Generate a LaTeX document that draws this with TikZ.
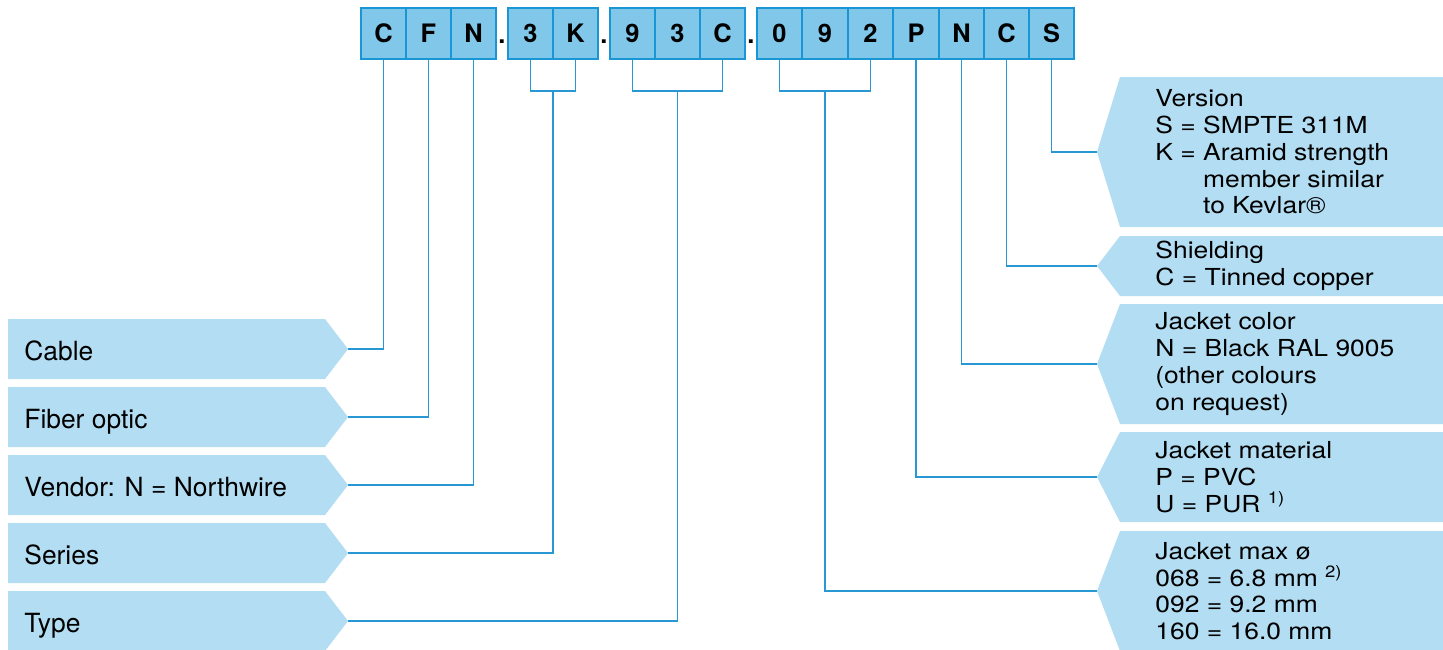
\documentclass[tikz,border=0pt]{standalone}
\usepackage{fontspec}
\setmainfont{TeX Gyre Heros}
\newfontfamily\wideheros[FakeStretch=1.13]{TeX Gyre Heros}
\usetikzlibrary{calc}
\definecolor{keyfill}{HTML}{80C7EA}
\definecolor{keyline}{HTML}{1B96D4}
\definecolor{tagfill}{HTML}{B3DDF2}
\definecolor{wireblue}{HTML}{2898D5}
\tikzset{
  keybox/.style={draw=keyline, fill=keyfill, line width=1pt, minimum width=22.7pt,
    minimum height=25.5pt, inner sep=0pt, font=\bfseries\fontsize{12.7}{14}\selectfont},
  keydot/.style={anchor=base, inner sep=0pt, font=\bfseries\fontsize{12.7}{14}\selectfont},
  wire/.style={wireblue, line width=0.65pt},
  lefttag/.style={anchor=base west, inner sep=0pt, font=\fontsize{13.2}{15}\selectfont},
  righttag/.style={anchor=west, inner sep=0pt, align=left, font=\wideheros\fontsize{11.7}{13.35}\selectfont},
}
\begin{document}
\begin{tikzpicture}[x=0.5pt, y=-0.5pt]
\useasboundingbox (0,0) rectangle (1443,649);
% order code boxes
\foreach \x/\ch [count=\i] in {383.5/C, 428.5/F, 473.5/N, 530.5/3, 575.5/K, 632.5/9, 677.5/3, 722.5/C,
  779.5/0, 825/9, 870.5/2, 916/P, 961.5/N, 1006.5/C, 1051.5/S}
  \node[keybox] (k\i) at (\x,33.5) {\ch};
\node[keydot] (dotA) at (502,43) {.};
\node[keydot] (dotB) at (604,43) {.};
\node[keydot] (dotC) at (751,43) {.};
% left tags
\foreach \y/\nm/\txt in {319/cable/Cable, 387/fiber/Fiber optic, 455/vendor/{Vendor: N = Northwire},
  523/series/Series, 591/type/Type}{
  \fill[tagfill] (8,\y) -- (325,\y) -- (348,\y+30) -- (325,\y+60) -- (8,\y+60) -- cycle;
  \node[lefttag] (\nm) at (24,\y+41) {\txt};
  \coordinate (\nm tip) at (348,\y+30);
}
% right tags
\foreach \t/\b/\nm/\txt in {
  77/227/version/{Version\\S = SMPTE 311M\\K = Aramid strength\\\hphantom{K = }member similar\\\hphantom{K = }to Kevlar®},
  236/296/shield/{Shielding\\C = Tinned copper},
  304/424/color/{Jacket color\\N = Black RAL 9005\\(other colours\\on request)},
  432/522/material/{Jacket material\\P = PVC\\U = PUR \textsuperscript{1)}},
  531/651/maxdia/{Jacket max ø\\068 = 6.8 mm \textsuperscript{2)}\\092 = 9.2 mm\\160 = 16.0 mm}}{
  \fill[tagfill] (1443,\t) -- (1120,\t) -- (1097,{(\t+\b)/2}) -- (1120,\b) -- (1443,\b) -- cycle;
  \node[righttag] (\nm) at (1155,{(\t+\b)/2}) {\txt};
  \coordinate (\nm tip) at (1097,{(\t+\b)/2});
}
% wires
\coordinate (serieshub) at ($(k4.south)!.5!(k5.south)+(0,31)$);
\coordinate (typehub) at ($(k6.south)!.5!(k8.south)+(0,31)$);
\coordinate (maxdiahub) at ($(k9.south)!.5!(k11.south)+(0,31)$);
\draw[wire] (k1.south) |- (cabletip);
\draw[wire] (k2.south) |- (fibertip);
\draw[wire] (k3.south) |- (vendortip);
\draw[wire] (k4.south) |- (serieshub) -| (k5.south);
\draw[wire] (serieshub) |- (seriestip);
\draw[wire] (k6.south) |- (typehub) -| (k8.south);
\draw[wire] (typehub) |- (typetip);
\draw[wire] (k9.south) |- (maxdiahub) -| (k11.south);
\draw[wire] (maxdiahub) |- (maxdiatip);
\draw[wire] (k12.south) |- (materialtip);
\draw[wire] (k13.south) |- (colortip);
\draw[wire] (k14.south) |- (shieldtip);
\draw[wire] (k15.south) |- (versiontip);
\end{tikzpicture}
\end{document}
